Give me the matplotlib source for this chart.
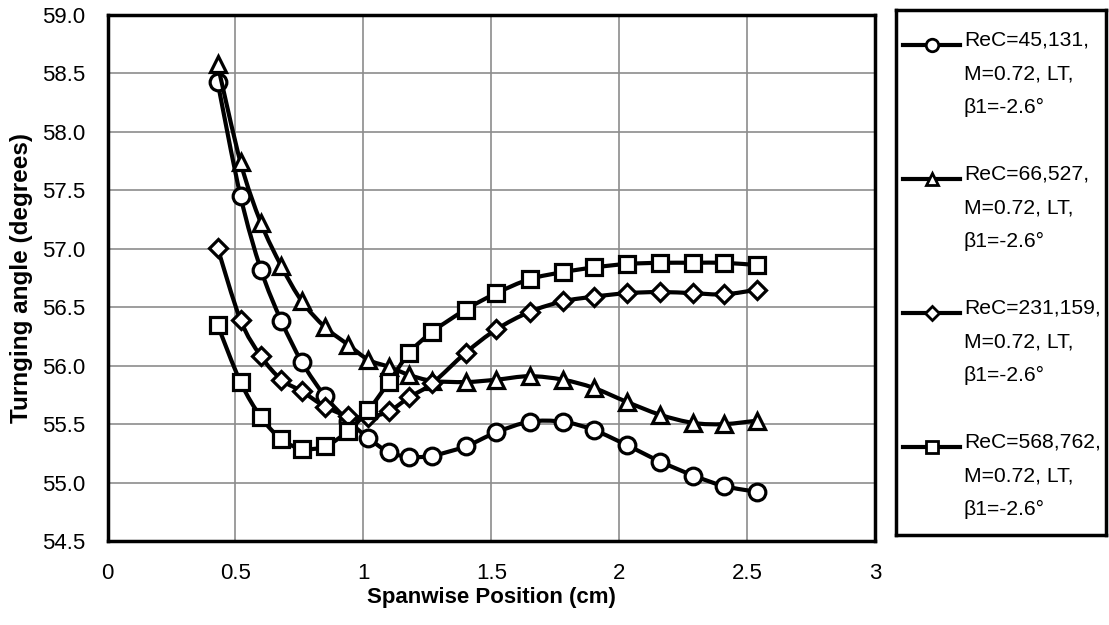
import numpy as np
import matplotlib
matplotlib.use("Agg")
import matplotlib.pyplot as plt
from matplotlib.path import Path
from matplotlib.patches import PathPatch

plt.rcParams["font.family"] = ["Liberation Sans", "DejaVu Sans"]

# Data
spanwise = [0.43, 0.52, 0.60, 0.68, 0.76, 0.85, 0.94, 1.02, 1.10, 1.18, 1.27,
            1.40, 1.52, 1.65, 1.78, 1.90, 2.03, 2.16, 2.29, 2.41, 2.54]

angle_45k = [58.43, 57.45, 56.82, 56.38, 56.03, 55.74, 55.53, 55.38, 55.26, 55.22, 55.23,
             55.31, 55.43, 55.52, 55.52, 55.45, 55.32, 55.18, 55.06, 54.97, 54.92]
angle_66k = [58.58, 57.74, 57.22, 56.85, 56.55, 56.33, 56.18, 56.05, 55.99, 55.92, 55.87,
             55.86, 55.88, 55.91, 55.88, 55.81, 55.69, 55.58, 55.51, 55.50, 55.53]
angle_231k = [57.01, 56.39, 56.08, 55.88, 55.78, 55.65, 55.57, 55.56, 55.61, 55.73, 55.85,
              56.11, 56.31, 56.46, 56.55, 56.59, 56.62, 56.63, 56.62, 56.61, 56.65]
angle_568k = [56.35, 55.86, 55.56, 55.37, 55.29, 55.31, 55.44, 55.62, 55.86, 56.11, 56.29,
              56.48, 56.62, 56.74, 56.80, 56.84, 56.87, 56.88, 56.88, 56.88, 56.86]

series = [angle_45k, angle_66k, angle_231k, angle_568k]
labels = [
    ["ReC=45,131,", "M=0.72, LT,", "β1=-2.6°"],
    ["ReC=66,527,", "M=0.72, LT,", "β1=-2.6°"],
    ["ReC=231,159,", "M=0.72, LT,", "β1=-2.6°"],
    ["ReC=568,762,", "M=0.72, LT,", "β1=-2.6°"],
]
markers = ["o", "^", "D", "s"]
msizes = [12, 12, 9, 12]

x_ticks = [0, 0.5, 1, 1.5, 2, 2.5, 3]
x_ticklabels = ["0", "0.5", "1", "1.5", "2", "2.5", "3"]
y_ticks = [54.5, 55.0, 55.5, 56.0, 56.5, 57.0, 57.5, 58.0, 58.5, 59.0]

FS = 16
LEG_FS = 15.2


def smooth_path(x, y):
    # Excel-like smoothed line: Bezier segments through the data points
    pts = np.column_stack([x, y])
    n = len(pts)
    verts = [pts[0]]
    codes = [Path.MOVETO]
    for i in range(n - 1):
        p0 = pts[max(i - 1, 0)]
        p1 = pts[i]
        p2 = pts[i + 1]
        p3 = pts[min(i + 2, n - 1)]
        c1 = p1 + (p2 - p0) / 6.0
        c2 = p2 - (p3 - p1) / 6.0
        verts += [c1, c2, p2]
        codes += [Path.CURVE4] * 3
    return Path(verts, codes)


W, H = 1109, 625
fig = plt.figure(figsize=(W / 100, H / 100), dpi=100)
ax = fig.add_axes([107.5 / W, 1 - 541 / H, (875 - 107.5) / W, (541 - 15) / H])

for i, (vals, mk, ms) in enumerate(zip(series, markers, msizes)):
    patch = PathPatch(smooth_path(spanwise, vals), facecolor="none",
                      edgecolor="black", lw=3, zorder=3 + 2 * i)
    ax.add_patch(patch)
    ax.plot(spanwise, vals, linestyle="none", marker=mk, markersize=ms,
            markerfacecolor="white", markeredgecolor="black",
            markeredgewidth=2.3, zorder=4 + 2 * i)

ax.set_xlim(0, 3)
ax.set_ylim(54.5, 59.0)
ax.set_xticks(x_ticks)
ax.set_xticklabels(x_ticklabels)
ax.set_yticks(y_ticks)
ax.set_yticklabels([f"{v:.1f}" for v in y_ticks])
ax.tick_params(length=0, labelsize=FS, pad=16)
ax.grid(color="#8c8c8c", lw=1.2)
ax.set_axisbelow(True)
for sp in ax.spines.values():
    sp.set_linewidth(2.5)
    sp.set_color("black")

ax.set_xlabel("Spanwise Position (cm)", fontsize=16, fontweight="bold")
ax.set_ylabel("Turnging angle (degrees)", fontsize=17.5, fontweight="bold")
ax.xaxis.set_label_coords(0.5, -0.088)
ax.yaxis.set_label_coords(-0.097, 0.5)

# Legend box, drawn in pixel-like coordinates
lx0, lx1, ly0, ly1 = 896, 1106, 10, 535
lax = fig.add_axes([lx0 / W, 1 - ly1 / H, (lx1 - lx0) / W, (ly1 - ly0) / H])
lax.set_xlim(lx0, lx1)
lax.set_ylim(ly1, ly0)
lax.set_xticks([])
lax.set_yticks([])
for sp in lax.spines.values():
    sp.set_linewidth(2.5)
    sp.set_color("black")

for i, (lines, mk, ms) in enumerate(zip(labels, markers, msizes)):
    base = 45 + 134 * i
    lax.plot([903, 960], [base, base], color="black", lw=3)
    lax.plot([932], [base], marker=mk, markersize=ms * 0.75,
             markerfacecolor="white", markeredgecolor="black", markeredgewidth=2)
    for j, txt in enumerate(lines):
        lax.text(964, base + 34 * j, txt, fontsize=LEG_FS, va="baseline", ha="left")

fig.savefig("out.png", dpi=100)
